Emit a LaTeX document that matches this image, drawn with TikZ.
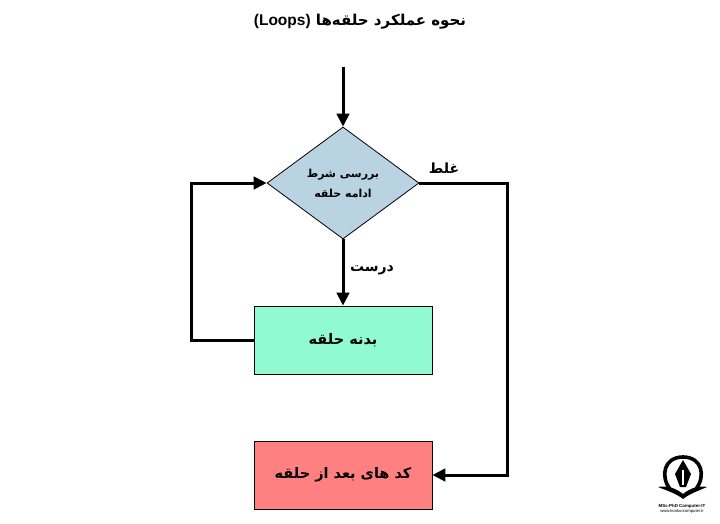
\documentclass[tikz,border=0pt]{standalone}
\usepackage{fontspec}
\setmainfont{DejaVu Sans}
\newfontfamily\arabicfont[Script=Arabic]{DejaVu Sans}
\newfontfamily\latinfont{Liberation Sans}
\TeXXeTstate=1
\usetikzlibrary{positioning,arrows.meta,shapes.geometric}

\definecolor{condblue}{HTML}{BAD3E2}
\definecolor{bodygreen}{HTML}{8FFAD4}
\definecolor{afterred}{HTML}{FF8080}

\begin{document}
\begin{tikzpicture}[
  x=1pt, y=-1pt,
  font=\arabicfont\bfseries,
  cond/.style={draw, diamond, fill=condblue, line width=0.8pt, inner sep=0pt,
               minimum width=152pt, minimum height=112pt, align=center, font=\arabicfont\bfseries\fontsize{11}{20}\selectfont},
  block/.style={draw, fill=#1, line width=0.8pt, minimum width=178pt, minimum height=68pt,
                font=\arabicfont\bfseries\fontsize{14.5}{16}\selectfont},
  flow/.style={-{Triangle[length=13pt,width=12.5pt]}, line width=3pt, black},
  branch/.style={font=\arabicfont\bfseries\fontsize{14}{16}\selectfont},
]
  \useasboundingbox (0,0) rectangle (720,524);

  \node[font=\arabicfont\bfseries\fontsize{15}{18}\selectfont] (title) at (360,22)
    {\beginR نحوه عملکرد حلقه‌ها \beginL{\latinfont\fontsize{15.5}{18}\selectfont(Loops)}\endL\endR};

  \coordinate (start) at (343,67);
  \node[cond] (check) at (343,183) {\beginR بررسی شرط\endR\\\beginR ادامه حلقه\endR};
  \node[block=bodygreen] (body) at (343,340) {\beginR بدنه حلقه\endR};
  \node[block=afterred] (after) at (343,475) {\beginR کد های بعد از حلقه\endR};

  \coordinate (loopcorner) at (191,340);
  \coordinate (exitcorner) at (507,183);

  % connectors
  \draw[flow] (start) -- (check.north);
  \draw[flow] (check.south) -- (body.north);
  \draw[flow] (body.west) -- (loopcorner) |- (check.west);
  \draw[flow] (check.east) -- (exitcorner) |- (after.east);

  \node[branch] (falselabel) at (444,168) {\beginR غلط\endR};
  \node[branch] (truelabel) at (372,270) {\beginR درست\endR};

  % logo
  \draw[line width=3.6pt] (670,489) .. controls (660,476) and (664,457) .. (683,457)
    .. controls (702,457) and (706,476) .. (696,489);
  \fill (683,460) -- (691,474) -- (686,487) -- (680,487) -- (675,474) -- cycle;
  \fill[white] (682.4,470) rectangle (683.6,485);
  \fill (658,487) .. controls (668,485) and (677,489) .. (683,494)
    .. controls (689,489) and (698,485) .. (707,487)
    .. controls (698,491) and (689,494) .. (683,499)
    .. controls (677,494) and (668,491) .. (658,487) -- cycle;
  \node[font=\latinfont\bfseries\fontsize{4.4}{5}\selectfont, inner sep=0pt] (logotext) at (682,506) {MSc-PhD Computer-IT};
  \node[font=\latinfont\fontsize{4.2}{5}\selectfont, inner sep=0pt, below=1.5pt of logotext] (logourl) {www.konkurcomputer.ir};
\end{tikzpicture}
\end{document}
